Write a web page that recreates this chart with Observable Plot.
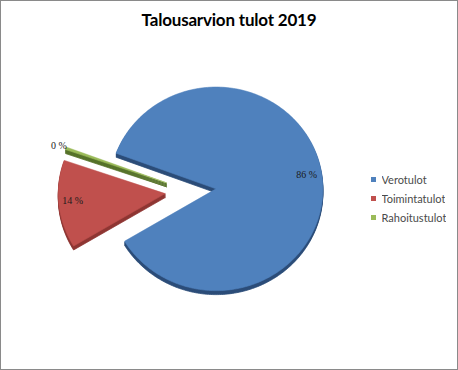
<!DOCTYPE html>
<html>
<head>
<meta charset="utf-8">
<script src="https://cdn.jsdelivr.net/npm/d3@7"></script>
<script src="https://cdn.jsdelivr.net/npm/@observablehq/plot@0.6"></script>
<style>
  html, body { margin: 0; padding: 0; background: #fff; }
  #chart {
    position: relative; width: 458px; height: 370px; box-sizing: border-box;
    border: 1px solid #8a8a8a; overflow: hidden; background: #fff;
    font-family: Lato, "Open Sans", sans-serif;
  }
  #plot { position: absolute; left: -1px; top: -1px; }
  #title {
    position: absolute; left: 0; right: 0; top: 8px; text-align: center;
    font: bold 17px Lato, sans-serif; letter-spacing: -0.2px; color: #000;
  }
  #legend { position: absolute; left: 370px; top: 169px; }
  #legend > div { margin: 0 !important; }
  #legend > div > div {
    margin: 0 !important; padding: 0 !important; height: 19px;
    display: flex; align-items: center;
  }
</style>
</head>
<body>
<div id="chart">
  <div id="plot"></div>
  <div id="title">Talousarvion tulot 2019</div>
  <div id="legend"></div>
</div>
<script>
// Budget income 2019, share of each income type (%)
const categories = ["Verotulot", "Toimintatulot", "Rahoitustulot"];
const shares = [85.7, 13.9, 0.4];
const faceColors = ["#4F81BD", "#C0504D", "#9BBB59"];
const sideColors = ["#2B4C78", "#8E3532", "#56722A"];
const labelRadius = [0.86, 0.87, 1.07];
const labelTurn = [-4, 1, 0];    // degrees, nudges each label along the rim

// Layout of the pie in pixels
const W = 458, H = 370;
const cx = 190.5, cy = 191;      // pie centre
const rx = 107, ry = 102;        // slightly tilted disc
const explode = 0.24;            // slice offset, in radii
const depthPx = 4;               // thickness of the disc
const startAngle = -69.5 * Math.PI / 180;

const rows = categories.map((name, i) => ({name, share: shares[i], i}));
const total = d3.sum(shares);
const arcs = d3.pie().sort(null).value(d => d.share)
  .startAngle(startAngle).endAngle(startAngle + 2 * Math.PI)(rows);

// Outline of a slice in unit-radius coordinates (y up), pushed out along its bisector
function slicePoints(a, key) {
  const mid = (a.startAngle + a.endAngle) / 2;
  const ox = explode * Math.sin(mid), oy = explode * Math.cos(mid);
  const n = Math.max(2, Math.ceil((a.endAngle - a.startAngle) / (Math.PI / 180)));
  const pts = [{x: ox, y: oy}];
  for (let k = 0; k <= n; ++k) {
    const t = a.startAngle + (a.endAngle - a.startAngle) * k / n;
    pts.push({x: ox + Math.sin(t), y: oy + Math.cos(t)});
  }
  pts.push({x: ox, y: oy});
  return pts.map(p => ({...p, key}));
}

const tops = arcs.flatMap(a => slicePoints(a, a.data.name));
const sides = arcs.flatMap(a => slicePoints(a, a.data.name + " side"));
const shadow = slicePoints(arcs[0], "shadow");

const labels = arcs.map(a => {
  const mid = (a.startAngle + a.endAngle) / 2;
  const ox = explode * Math.sin(mid), oy = explode * Math.cos(mid);
  const t = mid + labelTurn[a.index] * Math.PI / 180;
  const r = labelRadius[a.index];
  return {
    x: ox + r * Math.sin(t),
    y: oy + r * Math.cos(t),
    text: `${Math.round(a.data.share / total * 100)} %`
  };
});

const colorScale = {
  domain: [...categories, ...categories.map(c => c + " side")],
  range: [...faceColors, ...sideColors]
};

const sideMarks = d3.range(1, depthPx + 1).map(d =>
  Plot.line(sides, {x: "x", y: "y", z: "key", fill: "key", stroke: "key", strokeWidth: 0.8, dy: d})
);

const plot = Plot.plot({
  width: W, height: H, margin: 0,
  style: {background: "transparent"},
  x: {domain: [-cx / rx, (W - cx) / rx], range: [0, W], axis: null},
  y: {domain: [-(H - cy) / ry, cy / ry], range: [H, 0], axis: null},
  color: colorScale,
  marks: [
    Plot.line(shadow, {x: "x", y: "y", z: "key", fill: "#000", fillOpacity: 0.28, stroke: null, dx: 2, dy: depthPx + 3, ariaLabel: "shadow"}),
    ...sideMarks,
    Plot.line(tops, {x: "x", y: "y", z: "key", fill: "key", stroke: "key", strokeWidth: 0.6}),
    Plot.text(labels, {x: "x", y: "y", text: "text", fill: "#1b1b1b", fontSize: 10, fontFamily: "Liberation Serif, serif"})
  ]
});

// soften the drop shadow
const svg = d3.select(plot);
svg.insert("defs", ":first-child").append("filter").attr("id", "soft")
  .attr("x", "-20%").attr("y", "-20%").attr("width", "140%").attr("height", "140%")
  .append("feGaussianBlur").attr("stdDeviation", 2.5);
svg.select('g[aria-label="shadow"]').attr("filter", "url(#soft)");

document.getElementById("plot").appendChild(plot);

const legend = Plot.legend({
  color: {domain: categories, range: faceColors},
  legend: "swatches", columns: 1, swatchSize: 5,
  style: {fontFamily: "Lato, sans-serif", fontSize: "11px", color: "#4a4a4a"}
});
document.getElementById("legend").appendChild(legend);
</script>
</body>
</html>
